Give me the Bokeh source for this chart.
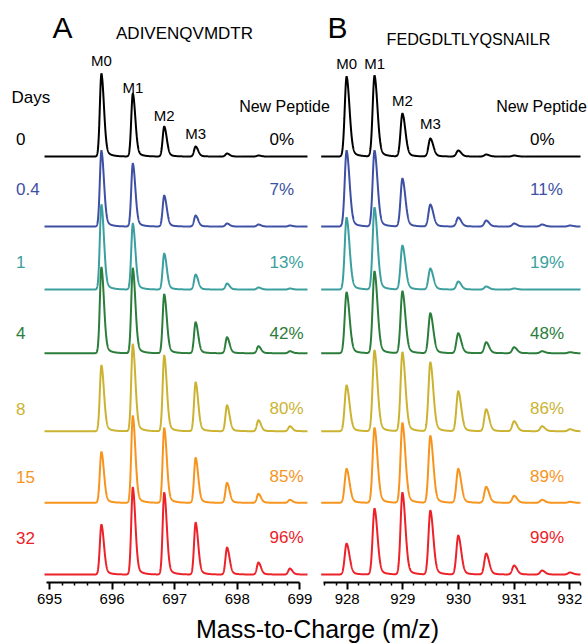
import numpy as np
from bokeh.plotting import figure
from bokeh.models import Range1d, FixedTicker, GridBox, ColumnDataSource
from bokeh.core.properties import value
from bokeh.embed import file_html
from bokeh.resources import INLINE

FONT = "Liberation Sans"

# ---------------- data ----------------
days = ["0", "0.4", "1", "4", "8", "15", "32"]
colors = ["#000000", "#3D50A4", "#3A9F9E", "#2B7D3B", "#CBB331", "#F7941D", "#ED2128"]
new_pct_A = ["0%", "7%", "13%", "42%", "80%", "85%", "96%"]
new_pct_B = ["0%", "11%", "19%", "48%", "86%", "89%", "99%"]

peptide_A = "ADIVENQVMDTR"
peptide_B = "FEDGDLTLYQSNAILR"
mono_A = 695.83          # m/z of M0, 2+ ion
mono_B = 927.99
iso_step = 0.5017        # isotope spacing for 2+ ions
iso_labels = ["M0", "M1", "M2", "M3"]

# relative intensity of isotope peaks M0, M1, M2, ... per time point
heights_A = [
    [83, 63, 30, 10, 3, 1, 0],
    [76, 63, 31, 11, 3, 2, 1],
    [85, 66, 36, 15, 6, 2, 1],
    [86, 85, 59, 31, 16, 7, 2],
    [66, 87, 76, 49, 26, 11, 5],
    [51, 87, 75, 45, 20, 9, 3],
    [50, 87, 82, 52, 27, 12, 6],
]
heights_B = [
    [80, 81, 43, 18, 6, 2, 1, 0, 0],
    [76, 76, 48, 22, 9, 6, 3, 2, 1],
    [72, 82, 44, 21, 8, 3, 1, 0, 0],
    [61, 82, 62, 40, 20, 11, 6, 2, 1],
    [46, 81, 79, 69, 40, 22, 10, 5, 2],
    [34, 75, 80, 67, 34, 16, 7, 3, 1],
    [31, 66, 82, 64, 39, 21, 9, 4, 2],
]
ticks_A = [695, 696, 697, 698, 699]
ticks_B = [928, 929, 930, 931, 932]

# ---------------- layout ----------------
W, H_TOP, FRAME_H = 587, 610, 582
H_BOT = 644 - H_TOP
PPU_A, REF_A = 62.6, 49.0      # px per m/z unit, screen x of 695
PPU_B, REF_B = 55.65, 346.7    # px per m/z unit, screen x of 928
xa0 = ticks_A[0] - REF_A / PPU_A
xb0 = ticks_B[0] - REF_B / PPU_B
base_sy = [156, 226, 289, 352.7, 430.7, 502.3, 574]
label_sy = [138.5, 188.5, 261.5, 332.5, 408, 476, 537]


def sy(v):
    return FRAME_H - v


def make_panel(x0, ppu):
    p = figure(width=W, height=H_TOP, x_range=Range1d(x0, x0 + W / ppu),
               y_range=Range1d(0, FRAME_H), output_backend="svg",
               toolbar_location=None, y_axis_location=None,
               min_border_left=0, min_border_right=0, min_border_top=0,
               min_border_bottom=H_TOP - FRAME_H)
    p.grid.visible = False
    p.outline_line_color = None
    p.background_fill_color = None
    p.border_fill_color = None
    ax = p.xaxis[0]
    ax.axis_line_width = 2
    ax.major_tick_line_width = 2
    ax.major_tick_out = 7
    ax.major_tick_in = 0
    ax.minor_tick_out = 3
    ax.minor_tick_in = 0
    ax.minor_tick_line_width = 1.5
    ax.major_label_text_font = FONT
    ax.major_label_text_font_size = "15px"
    ax.major_label_text_color = "black"
    ax.major_label_standoff = 4
    return p


def peak_shape(dx, sl, sr, tau):
    left = np.exp(-0.5 * (dx / sl) ** 2)
    right = 0.85 * np.exp(-0.5 * (dx / sr) ** 2) + 0.15 * np.exp(-np.clip(dx, 0, None) / tau)
    return np.where(dx < 0, left, right)


def draw_traces(p, heights, mono, ppu, sx_lo, sx_hi, x0, wl, wr, tail):
    xs = np.linspace(x0 + sx_lo / ppu, x0 + sx_hi / ppu, 2500)
    for i, hs in enumerate(heights):
        y = np.full_like(xs, sy(base_sy[i]))
        for k, h in enumerate(hs):
            y = y + h * peak_shape(xs - (mono + k * iso_step), wl / ppu, wr / ppu, tail / ppu)
        p.line(xs, y, line_color=colors[i], line_width=2)


def txt(p, x, y, t, size, color="black", align="center", baseline="middle"):
    p.text(x=x, y=y, text=t, text_font=value(FONT), text_font_size=size,
           text_color=color, text_align=align, text_baseline=baseline)


# ---------------- panel A ----------------
pA = make_panel(xa0, PPU_A)
pA.xaxis.ticker = FixedTicker(ticks=ticks_A,
                              minor_ticks=[t + 0.2 * j for t in ticks_A[:-1] for j in range(1, 5)])
pA.xaxis.bounds = (694.96, 699.0)
draw_traces(pA, heights_A, mono_A, PPU_A, 44, 307, xa0, 1.6, 2.5, 5.0)

fx = lambda sx: xa0 + sx / PPU_A
txt(pA, [fx(62)], [sy(27)], ["A"], "30px")
txt(pA, [fx(184)], [sy(33)], [peptide_A], "17px")
txt(pA, [mono_A + k * iso_step for k in range(4)], [sy(v) for v in [60, 87, 115, 133]],
    iso_labels, "15px")
txt(pA, [fx(11)], [sy(97)], ["Days"], "17px", align="left")
txt(pA, [fx(284)], [sy(106)], ["New Peptide"], "16px")
src_days = ColumnDataSource(dict(x=[fx(15.5)] * 7, y=[sy(v) for v in label_sy], t=days, c=colors))
pA.text(x="x", y="y", text="t", text_color="c", source=src_days, text_font=value(FONT),
        text_font_size="17px", text_align="left", text_baseline="middle")
src_pa = ColumnDataSource(dict(x=[fx(269)] * 7, y=[sy(v) for v in label_sy], t=new_pct_A, c=colors))
pA.text(x="x", y="y", text="t", text_color="c", source=src_pa, text_font=value(FONT),
        text_font_size="17px", text_align="left", text_baseline="middle")

# ---------------- panel B ----------------
pB = make_panel(xb0, PPU_B)
pB.xaxis.ticker = FixedTicker(ticks=ticks_B,
                              minor_ticks=[927.6, 927.8] + [t + 0.2 * j for t in ticks_B for j in range(1, 5) if t + 0.2 * j < 932.25])
pB.xaxis.bounds = (927.57, 932.2)
draw_traces(pB, heights_B, mono_B, PPU_B, 320.7, 580, xb0, 1.9, 2.9, 5.5)

gx = lambda sx: xb0 + sx / PPU_B
txt(pB, [gx(337)], [sy(27)], ["B"], "30px")
txt(pB, [gx(468)], [sy(38)], [peptide_B], "16.2px")
txt(pB, [mono_B + k * iso_step for k in range(4)], [sy(v) for v in [62.7, 62.7, 100, 122.7]],
    iso_labels, "15px")
txt(pB, [gx(541)], [sy(106)], ["New Peptide"], "16px")
src_pb = ColumnDataSource(dict(x=[gx(529.5)] * 7, y=[sy(v) for v in label_sy], t=new_pct_B, c=colors))
pB.text(x="x", y="y", text="t", text_color="c", source=src_pb, text_font=value(FONT),
        text_font_size="17px", text_align="left", text_baseline="middle")

# ---------------- shared x label ----------------
pC = figure(width=W, height=H_BOT, x_range=Range1d(0, W), y_range=Range1d(0, H_BOT),
            output_backend="svg", toolbar_location=None, x_axis_location=None,
            y_axis_location=None, min_border=0)
pC.grid.visible = False
pC.outline_line_color = None
txt(pC, [317], [H_BOT - (628 - H_TOP)], ["Mass-to-Charge (m/z)"], "25px")

layout = GridBox(children=[(pA, 0, 0), (pB, 0, 0), (pC, 1, 0)])
open("out.html", "w").write(file_html(layout, INLINE))
